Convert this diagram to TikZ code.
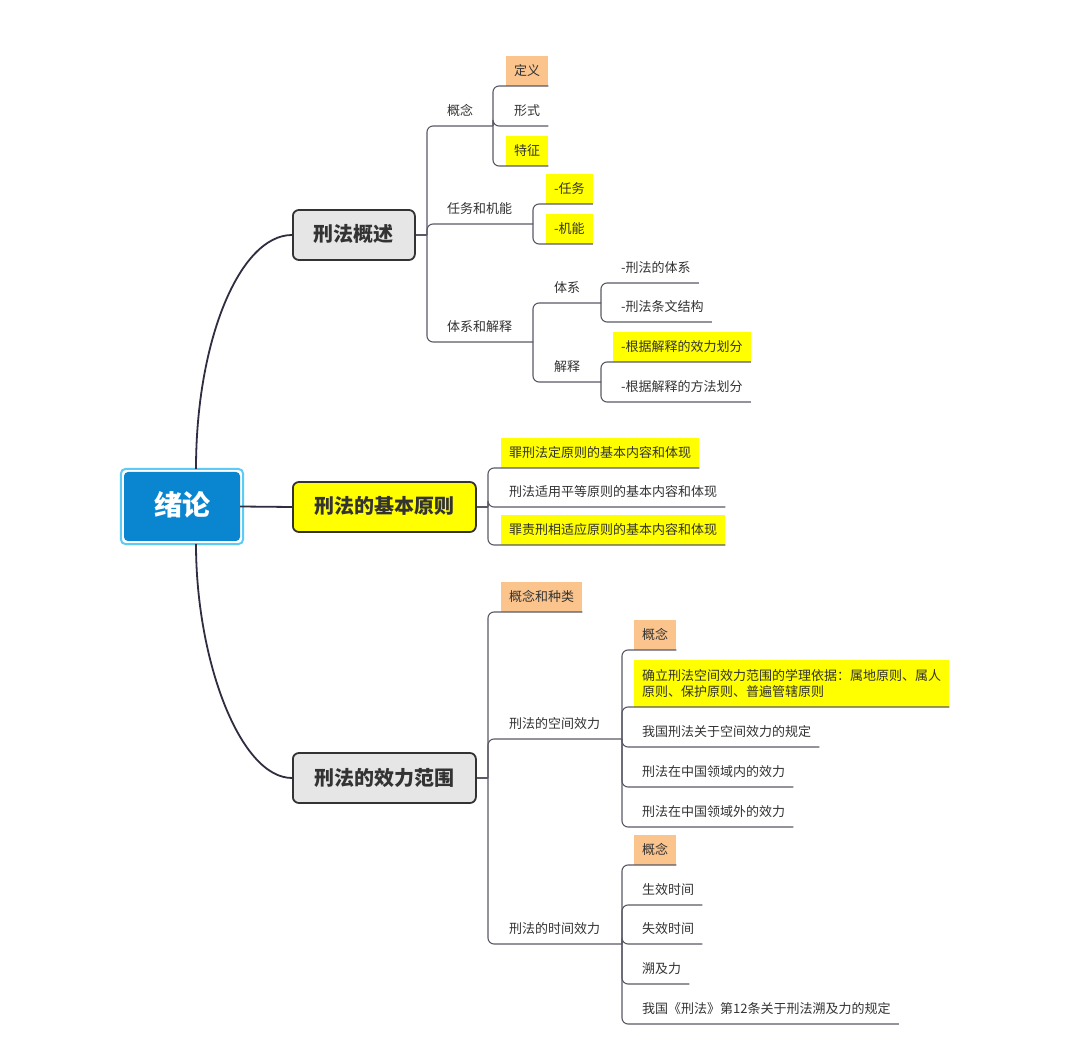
\documentclass[tikz,border=0pt]{standalone}
\usepackage{fontspec}
\setmainfont{Noto Sans CJK SC}
\definecolor{rootblue}{HTML}{0A85CF}
\definecolor{ringblue}{HTML}{5CCBF5}
\definecolor{mgray}{HTML}{E6E6E6}
\definecolor{yel}{HTML}{FFFF00}
\definecolor{ora}{HTML}{FAC48C}
\definecolor{linec}{HTML}{5A5A66}
\definecolor{curvec}{HTML}{2E2E40}
\definecolor{txt}{HTML}{333333}
\tikzset{
  plain/.style={anchor=south west, inner xsep=8pt, inner ysep=0pt, minimum height=29.5pt,
    text height=11pt, text depth=1.5pt, font=\fontsize{13}{16.5}\selectfont, text=txt},
  hly/.style={plain, fill=yel},
  hlo/.style={plain, fill=ora},
  twoline/.style={anchor=south west, inner xsep=8pt, inner ysep=0pt, minimum height=47pt,
    align=left, font=\fontsize{13}{16.5}\selectfont, text=txt, fill=yel},
  mainbox/.style={draw=txt, line width=1.8pt, rounded corners=6pt, anchor=west,
    minimum height=50pt, text height=16pt, text depth=2pt,
    font=\fontsize{20}{24}\selectfont\bfseries, text=txt},
  conn/.style={draw=linec, line width=1.1pt, rounded corners=6pt},
  branch/.style={draw=curvec, line width=1.8pt},
}
\begin{document}
\begin{tikzpicture}[x=1pt,y=-1pt]
\useasboundingbox[fill=white] (0,0) rectangle (1080,1056);

% root
\node[fill=rootblue, rounded corners=4pt, minimum width=116pt, minimum height=69pt,
  text=white, font=\fontsize{28}{32}\selectfont\bfseries, text height=22pt, text depth=3pt]
  (root) at (182,506.5) {绪论};
\draw[draw=ringblue, line width=2pt, rounded corners=5pt]
  ([shift={(-3,-3)}]root.north west) rectangle ([shift={(3,3)}]root.south east);
\coordinate (rtop) at (196,469);
\coordinate (rbot) at (196,544);

% main topics
\node[mainbox, fill=mgray, minimum width=122pt] (gs) at (292,235) {刑法概述};
\node[mainbox, fill=yel, minimum width=183pt] (jb) at (292,507) {刑法的基本原则};
\node[mainbox, fill=mgray, minimum width=183pt] (xl) at (292,778) {刑法的效力范围};

% branch 1
\node[plain] (gn) at (439,126) {概念};
\node[hlo] (dy) at (506,86) {定义};
\node[plain] (xs) at (506,126) {形式};
\node[hly] (tz) at (506,166) {特征};
\node[plain] (rw) at (439,224) {任务和机能};
\node[hly] (rwa) at (546,204) {-任务};
\node[hly] (rwb) at (546,244) {-机能};
\node[plain] (tj) at (439,342) {体系和解释};
\node[plain] (tx) at (546,303) {体系};
\node[plain] (jx) at (546,382) {解释};
\node[plain] (txa) at (613,283) {-刑法的体系};
\node[plain] (txb) at (613,322) {-刑法条文结构};
\node[hly] (jxa) at (613,362) {-根据解释的效力划分};
\node[plain] (jxb) at (613,402) {-根据解释的方法划分};

% branch 2
\node[hly] (p1) at (501,468) {罪刑法定原则的基本内容和体现};
\node[plain] (p2) at (501,507) {刑法适用平等原则的基本内容和体现};
\node[hly] (p3) at (501,545) {罪责刑相适应原则的基本内容和体现};

% branch 3
\node[hlo] (zl) at (501,612) {概念和种类};
\node[plain] (kj) at (501,739) {刑法的空间效力};
\node[plain] (sj) at (501,944) {刑法的时间效力};
\node[hlo] (kja) at (634,650) {概念};
\node[twoline] (kjb) at (634,707)
  {确立刑法空间效力范围的学理依据：属地原则、属人\\原则、保护原则、普遍管辖原则};
\node[plain] (kjc) at (634,747) {我国刑法关于空间效力的规定};
\node[plain] (kjd) at (634,787) {刑法在中国领域内的效力};
\node[plain] (kje) at (634,827) {刑法在中国领域外的效力};
\node[hlo] (sja) at (634,865) {概念};
\node[plain] (sjb) at (634,905) {生效时间};
\node[plain] (sjc) at (634,944) {失效时间};
\node[plain] (sjd) at (634,984) {溯及力};
\node[plain] (sje) at (634,1024) {我国《刑法》第12条关于刑法溯及力的规定};

% junctions
\coordinate (J1) at (427,235);
\coordinate (J11) at (493,126);
\coordinate (J12) at (533,224);
\coordinate (J13) at (533,342);
\coordinate (J131) at (601,303);
\coordinate (J132) at (601,382);
\coordinate (J2) at (488,507);
\coordinate (J3) at (488,778);
\coordinate (J32) at (622,739);
\coordinate (J33) at (622,944);

% curves from root
\draw[branch] (rtop) .. controls (196,340) and (240,235) .. (gs.west);
\draw[branch] (rbot) .. controls (196,660) and (240,778) .. (xl.west);
\draw[branch] (root.east) -- (jb.west);

% connectors branch 1
\draw[conn] (gs.east) -- (J1);
\draw[conn] (J1) |- (J11);
\draw[conn] (J1) |- (J12);
\draw[conn] (J1) |- (J13);
\draw[conn] (J11) |- (dy.south east);
\draw[conn] (J11) |- (xs.south east);
\draw[conn] (J11) |- (tz.south east);
\draw[conn] (J12) |- (rwa.south east);
\draw[conn] (J12) |- (rwb.south east);
\draw[conn] (J13) |- (J131);
\draw[conn] (J13) |- (J132);
\draw[conn] (J131) |- (txa.south east);
\draw[conn] (J131) |- (txb.south east);
\draw[conn] (J132) |- (jxa.south east);
\draw[conn] (J132) |- (jxb.south east);

% connectors branch 2
\draw[conn] (jb.east) -- (J2);
\draw[conn] (J2) |- (p1.south east);
\draw[conn] (J2) |- (p2.south east);
\draw[conn] (J2) |- (p3.south east);

% connectors branch 3
\draw[conn] (xl.east) -- (J3);
\draw[conn] (J3) |- (zl.south east);
\draw[conn] (J3) |- (J32);
\draw[conn] (J3) |- (J33);
\draw[conn] (J32) |- (kja.south east);
\draw[conn] (J32) |- (kjb.south east);
\draw[conn] (J32) |- (kjc.south east);
\draw[conn] (J32) |- (kjd.south east);
\draw[conn] (J32) |- (kje.south east);
\draw[conn] (J33) |- (sja.south east);
\draw[conn] (J33) |- (sjb.south east);
\draw[conn] (J33) |- (sjc.south east);
\draw[conn] (J33) |- (sjd.south east);
\draw[conn] (J33) |- (sje.south east);
\end{tikzpicture}
\end{document}
